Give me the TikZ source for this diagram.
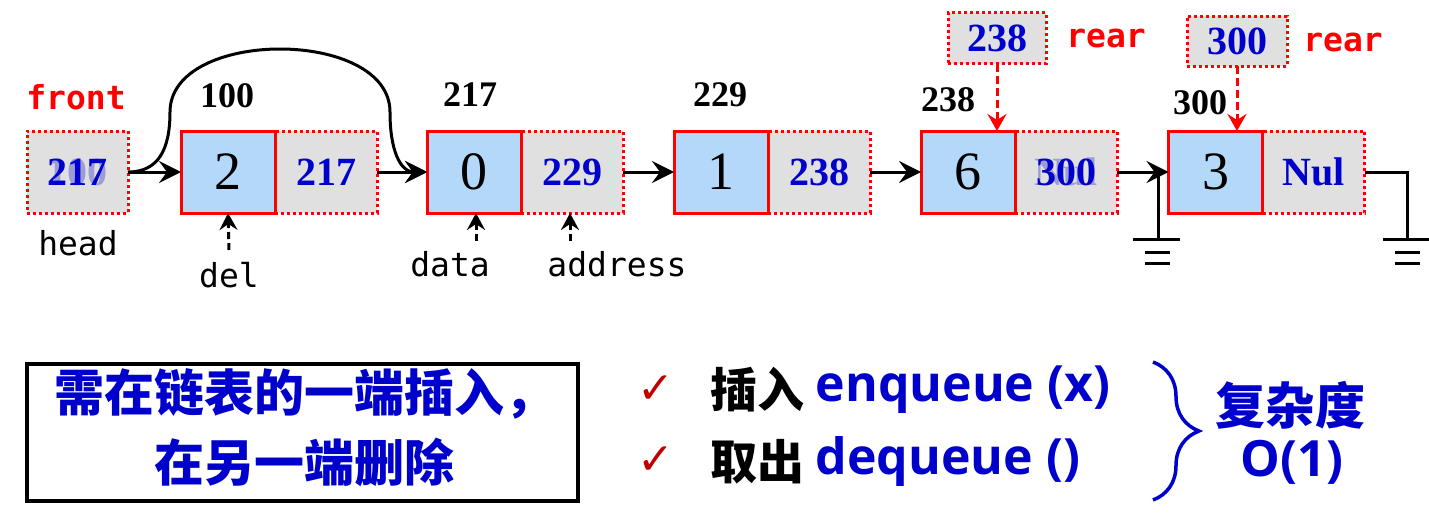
\documentclass[tikz,border=0pt]{standalone}
\usepackage{fontspec}
\setmainfont{Liberation Serif}
\newfontfamily\cjkfont{Noto Sans CJK SC}
\newfontfamily\latinfont{Open Sans}
\newfontfamily\codefont{DejaVu Sans Mono}
\newfontfamily\symbolfont{DejaVu Sans}
\usetikzlibrary{arrows.meta,positioning,decorations.pathreplacing}
\definecolor{cellblue}{RGB}{180,216,250}
\definecolor{cellgray}{RGB}{224,224,224}
\definecolor{numblue}{RGB}{0,0,204}
\definecolor{checkred}{RGB}{192,0,0}

\begin{document}
\begin{tikzpicture}[
		x=1pt,y=-1pt,
		>={Stealth[length=22pt,width=22pt,inset=8pt]},
		datacell/.style={
			draw=red,
			fill=cellblue,
			line width=3pt,
			minimum width=94pt,
			minimum height=82pt,
			inner sep=0pt,
			outer sep=0pt,
			font=\fontsize{54}{54}\selectfont
		},
		addrcell/.style={
			draw=red,
			fill=cellgray,
			line width=3pt,
			dash pattern=on 3pt off 3pt,
			minimum width=102pt,
			minimum height=82pt,
			inner sep=0pt,
			outer sep=0pt,
			text=numblue,
			font=\bfseries\fontsize{40}{40}\selectfont
		},
		ghost/.style={
			text=numblue,
			opacity=0.3,
			font=\bfseries\fontsize{40}{40}\selectfont
		},
		addrlabel/.style={
			font=\bfseries\fontsize{36}{36}\selectfont
		},
		pointer/.style={
			text=red,
			font=\codefont\bfseries\fontsize{33}{33}\selectfont
		},
		varlabel/.style={
			font=\codefont\fontsize{33}{33}\selectfont
		},
		link/.style={
			->,
			line width=3pt
		},
		upptr/.style={
			-{Stealth[length=17pt,width=18pt,inset=6pt]},
			line width=3pt,
			dash pattern=on 7pt off 4pt
		},
		rearptr/.style={
			-{Stealth[length=17pt,width=19pt,inset=6pt]},
			draw=red,
			line width=3pt,
			dash pattern=on 8pt off 4pt
		},
		wire/.style={
			line width=3pt
		},
		cjktext/.style={
			text=numblue,
			font=\cjkfont\bfseries\fontsize{50}{70}\selectfont
		},
		optext/.style={
			text=numblue,
			anchor=west,
			font=\latinfont\bfseries\fontsize{50}{50}\selectfont
		},
		opverb/.style={
			anchor=west,
			font=\cjkfont\bfseries\fontsize{47}{47}\selectfont
		},
		check/.style={
			text=checkred,
			font=\symbolfont\fontsize{44}{44}\selectfont
		}
		]
		\useasboundingbox (0,0) rectangle (1429,522);
		% the list
		\node[addrcell,minimum width=101pt] (head) at (77.5,172) {217};
		\node[ghost] (headold) at (head) {100};
		\node[pointer] (front) at (76,97) {front};
		\node[varlabel] (headlab) at (78,243) {head};
		\node[addrcell] (a1) at (326,172) {217};
		\node[datacell,left=0pt of a1] (d1) {2};
		\node[addrcell] (a2) at (572,172) {229};
		\node[datacell,left=0pt of a2] (d2) {0};
		\node[addrcell] (a3) at (819,172) {238};
		\node[datacell,left=0pt of a3] (d3) {1};
		\node[addrcell] (a4) at (1066,172) {300};
		\node[ghost] (a4old) at (a4) {Nul};
		\node[datacell,left=0pt of a4] (d4) {6};
		\node[addrcell] (a5) at (1313.5,172) {Nul};
		\node[datacell,left=0pt of a5] (d5) {3};
		\node[addrlabel] (l1) at (227,96) {100};
		\node[addrlabel] (l2) at (470,95) {217};
		\node[addrlabel] (l3) at (720,95) {229};
		\node[addrlabel] (l4) at (948,100) {238};
		\node[addrlabel] (l5) at (1200,103) {300};
		\draw[link] (head.east) -- (d1.west);
		\draw[link] (a1.east) -- (d2.west);
		\draw[link] (a2.east) -- (d3.west);
		\draw[link] (a3.east) -- (d4.west);
		\draw[link] (a4.east) -- (d5.west);
		\draw[link] (head.east) .. controls (158,172) and (170,150) .. (170,112)
			.. controls (170,28) and (390,28) .. (390,112)
			.. controls (390,150) and (400,172) .. (d2.west);
		% pointers below
		\node[varlabel] (del) at (229,275) {del};
		\node[varlabel] (data) at (450,264) {data};
		\node[varlabel] (address) at (617,264) {address};
		\coordinate (delp) at (229,250);
		\coordinate (datap) at (476,241);
		\coordinate (addrp) at (570,241);
		\draw[upptr] (delp) -- (d1.south);
		\draw[upptr] (datap) -- (datap |- d2.south);
		\draw[upptr] (addrp) -- (addrp |- a2.south);
		% rear
		\node[addrcell,minimum width=98pt,minimum height=51pt] (rear1) at (997,38) {238};
		\node[pointer] (rear1lab) at (1106,38) {rear};
		\node[addrcell,minimum width=100pt,minimum height=50pt] (rear2) at (1237,41) {300};
		\node[pointer] (rear2lab) at (1343,42) {rear};
		\draw[rearptr] (rear1.south) -- (rear1.south |- d4.north);
		\draw[rearptr] (rear2.south) -- (rear2.south |- d5.north);
		% grounds
		\coordinate (g1) at (1158,172);
		\coordinate (g2) at (1407,172);
		\draw[wire] (g1) -- ++(0,67) ++(-25,0) -- ++(47,0);
		\draw[wire] (g1) ++(-13,252-172) -- ++(25,0) ++(-25,11) -- ++(25,0);
		\draw[wire] (a5.east) -- (g2) -- ++(0,67) ++(-24,0) -- ++(46,0);
		\draw[wire] (g2) ++(-12,252-172) -- ++(25,0) ++(-25,11) -- ++(25,0);
		% bottom part
		\node[draw,line width=4pt,minimum width=551pt,minimum height=137pt] (note) at (302.5,432.5) {};
		\node[cjktext,align=center] (notetext) at (304,428) {需在链表的一端插入，\\在另一端删除};
		\node[check] (ck1) at (656,390) {✓};
		\node[check] (ck2) at (656,461) {✓};
		\node[opverb] (insverb) at (707,390) {插入};
		\node[optext,right=4pt of insverb] (enq) {enqueue (x)};
		\node[opverb] (delverb) at (707,462) {取出};
		\node[optext,right=4pt of delverb] (deq) {dequeue ()};
		\coordinate (bt) at (1153,362);
		\coordinate (bb) at (1153,500);
		\draw[numblue,line width=3.5pt,decorate,decoration={brace,amplitude=46pt}] (bt) -- (bb);
		\node[cjktext] (cost) at (1290,405) {复杂度};
		\node[optext,anchor=center] (order) at (1292,462) {O(1)};
\end{tikzpicture}
\end{document}
